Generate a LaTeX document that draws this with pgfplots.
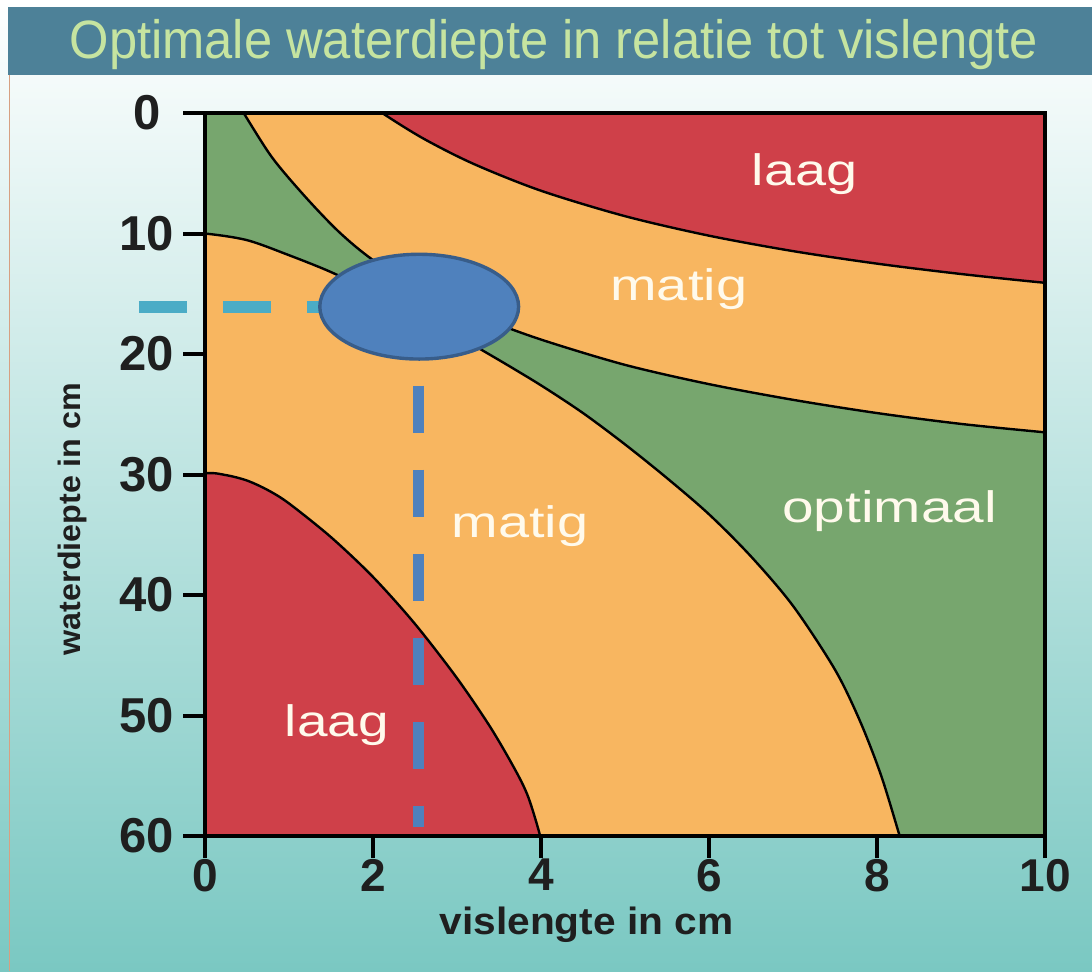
\documentclass[border=0pt]{standalone}
\usepackage{fontspec}
\setmainfont{Liberation Sans}
\usepackage{graphicx}
\usepackage{pgfplots}
\usepackage{pgfplotstable}
\pgfplotsset{compat=1.18}

\definecolor{RegRed}{RGB}{207,64,73}
\definecolor{RegOrange}{RGB}{248,182,96}
\definecolor{RegGreen}{RGB}{119,166,110}
\definecolor{TitleBar}{RGB}{77,129,152}
\definecolor{TitleText}{RGB}{198,228,160}
\definecolor{BgMid}{RGB}{172,210,228}
\definecolor{BgBot}{RGB}{122,200,194}
\definecolor{LabelWhite}{RGB}{255,250,236}
\definecolor{EllFill}{RGB}{79,129,189}
\definecolor{EllDraw}{RGB}{56,93,138}
\definecolor{DashCyan}{RGB}{75,172,198}
\definecolor{DashBlue}{RGB}{79,129,189}
\definecolor{EdgeLine}{RGB}{214,160,130}

\pgfdeclareplotmark{bigellipse}{%
  \pgfpathellipse{\pgfpointorigin}{\pgfqpoint{49.7pt}{0pt}}{\pgfqpoint{0pt}{26.2pt}}%
  \pgfusepathqfillstroke}

% boundary curves read from the chart (x = vislengte, y = waterdiepte)
\pgfplotstableread{
x y
1.2 -6
1.5 -3.35
1.8 -1.59
2.11 0
2.6 2.12
3.2 4.23
4.0 6.45
5.0 8.56
6.0 10.18
7.0 11.46
8.0 12.50
9.0 13.36
10.0 14.09
11.0 14.70
12.0 15.24
}\curveR
\pgfplotstableread{
x y
0.3 -1.9
0.38 -0.9
0.46 0
0.8 3.7
1.2 7.0
1.6 9.9
2.0 12.2
2.6 14.8
3.3 17.0
4.0 18.8
5.0 20.9
6.0 22.5
7.0 23.8
8.0 24.9
9.0 25.8
10.0 26.5
10.8 27.0
11.5 27.4
}\curveA
\pgfplotstableread{
x y
-1.2 9.6
-0.5 9.8
0 10.0
0.5 10.55
1.0 11.8
1.5 13.2
2.0 14.9
2.5 16.7
3.0 18.5
3.5 20.5
4.0 22.6
4.5 24.9
5.0 27.5
5.5 30.3
6.0 33.3
6.5 36.8
7.0 40.9
7.5 46.2
7.8 50.5
8.05 55.0
8.27 60.0
8.38 62.6
8.48 65.0
}\curveB
\pgfplotstableread{
x y
-1.2 32.0
-0.6 30.6
0 29.9
0.25 30.05
0.5 30.5
0.75 31.3
1.0 32.4
1.5 35.2
2.0 38.5
2.5 42.4
3.0 46.9
3.4 51.0
3.7 54.6
3.85 56.8
3.99 60.0
4.06 62.5
4.11 65.0
}\curveC

\begin{document}
\begin{tikzpicture}
\useasboundingbox (0,0) rectangle (546pt,485.5pt);
\shade[top color=white, middle color=BgMid, bottom color=BgBot] (0,0) rectangle (546pt,485.5pt);
\fill[TitleBar] (4pt,448pt) rectangle (546pt,482pt);
\draw[EdgeLine, line width=0.7pt] (4.8pt,0) -- (4.8pt,448pt);
\node[anchor=base, inner sep=0pt, text=TitleText, font=\fontsize{27pt}{27pt}\selectfont] at (277pt,456pt) {\scalebox{0.938}[1]{Optimale waterdiepte in relatie tot vislengte}};

\begin{axis}[
  at={(102.5pt,67.5pt)}, anchor=south west,
  scale only axis, width=420pt, height=361.5pt,
  xmin=0, xmax=10, ymin=0, ymax=60, y dir=reverse,
  xtick={0,2,4,6,8,10}, ytick={0,10,20,30,40,50,60},
  xtick pos=left, ytick pos=left,
  tick align=outside, major tick length=11pt,
  tick style={line width=2pt, color=black},
  axis line style={line width=2.2pt},
  axis on top,
  axis background/.style={fill=RegOrange},
  /pgf/number format/assume math mode=true,
  xticklabel style={font=\fontsize{23pt}{23pt}\selectfont\bfseries, text=black!88, yshift=3pt},
  yticklabel={\makebox[30pt][c]{\pgfmathprintnumber{\tick}}},
  yticklabel style={font=\fontsize{24.5pt}{24.5pt}\selectfont\bfseries, text=black!88, xshift=0.5pt},
  xlabel={\scalebox{1.07}[1]{vislengte in cm}},
  ylabel={\scalebox{1.04}[1]{waterdiepte in cm}},
  xlabel style={at={(axis description cs:0.4542,-0.1369)}, anchor=base, font=\fontsize{19pt}{19pt}\selectfont\bfseries, inner sep=0pt, text=black!88},
  ylabel style={at={(axis description cs:-0.1488,0.4385)}, anchor=base, font=\fontsize{15.5pt}{15.5pt}\selectfont\bfseries, inner sep=0pt, text=black!88},
]
% green: lower-left side of curve A
\addplot[smooth, draw=none, fill=RegGreen] table[x=x,y=y] {\curveA} -- (axis cs:11.5,68) -- (axis cs:-1,68) -- (axis cs:-1,-5) -- (axis cs:0.3,-5) -- cycle;
% orange: lower-left side of curve B
\addplot[smooth, draw=none, fill=RegOrange] table[x=x,y=y] {\curveB} -- (axis cs:8.48,70) -- (axis cs:-1.2,70) -- cycle;
% red: lower-left side of curve C
\addplot[smooth, draw=none, fill=RegRed] table[x=x,y=y] {\curveC} -- (axis cs:4.11,70) -- (axis cs:-1.2,70) -- cycle;
% red: upper-right side of curve R
\addplot[smooth, draw=none, fill=RegRed] table[x=x,y=y] {\curveR} -- (axis cs:12,-6) -- cycle;

% boundary lines
\addplot[smooth, black, line width=1.2pt] table[x=x,y=y] {\curveA};
\addplot[smooth, black, line width=1.2pt] table[x=x,y=y] {\curveB};
\addplot[smooth, black, line width=1.2pt] table[x=x,y=y] {\curveC};
\addplot[smooth, black, line width=1.2pt] table[x=x,y=y] {\curveR};

% region labels
\node[anchor=base, inner sep=0pt, text=LabelWhite, font=\fontsize{22pt}{22pt}\selectfont] at (axis cs:7.14,5.98) {\scalebox{1.27}[1]{laag}};
\node[anchor=base, inner sep=0pt, text=LabelWhite, font=\fontsize{22pt}{22pt}\selectfont] at (axis cs:5.64,15.52) {\scalebox{1.27}[1]{matig}};
\node[anchor=base, inner sep=0pt, text=LabelWhite, font=\fontsize{22pt}{22pt}\selectfont] at (axis cs:8.15,34.02) {\scalebox{1.29}[1]{optimaal}};
\node[anchor=base, inner sep=0pt, text=LabelWhite, font=\fontsize{22pt}{22pt}\selectfont] at (axis cs:3.75,35.19) {\scalebox{1.27}[1]{matig}};
\node[anchor=base, inner sep=0pt, text=LabelWhite, font=\fontsize{22pt}{22pt}\selectfont] at (axis cs:1.57,51.78) {\scalebox{1.25}[1]{laag}};
\end{axis}

\begin{axis}[
  at={(102.5pt,67.5pt)}, anchor=south west,
  scale only axis, width=420pt, height=361.5pt,
  xmin=0, xmax=10, ymin=0, ymax=60, y dir=reverse,
  hide axis, clip=false,
]
\addplot[DashCyan, line width=5.8pt, dash pattern=on 23.8pt off 18.2pt] coordinates {(-0.786,16.08) (2.0,16.08)};
\addplot[DashBlue, line width=5.8pt, dash pattern=on 23.5pt off 18.5pt] coordinates {(2.54,22.63) (2.54,59.23)};
\addplot[only marks, mark=bigellipse, mark options={fill=EllFill, draw=EllDraw, line width=1.7pt}] coordinates {(2.55,16.07)};
\end{axis}
\end{tikzpicture}
\end{document}
